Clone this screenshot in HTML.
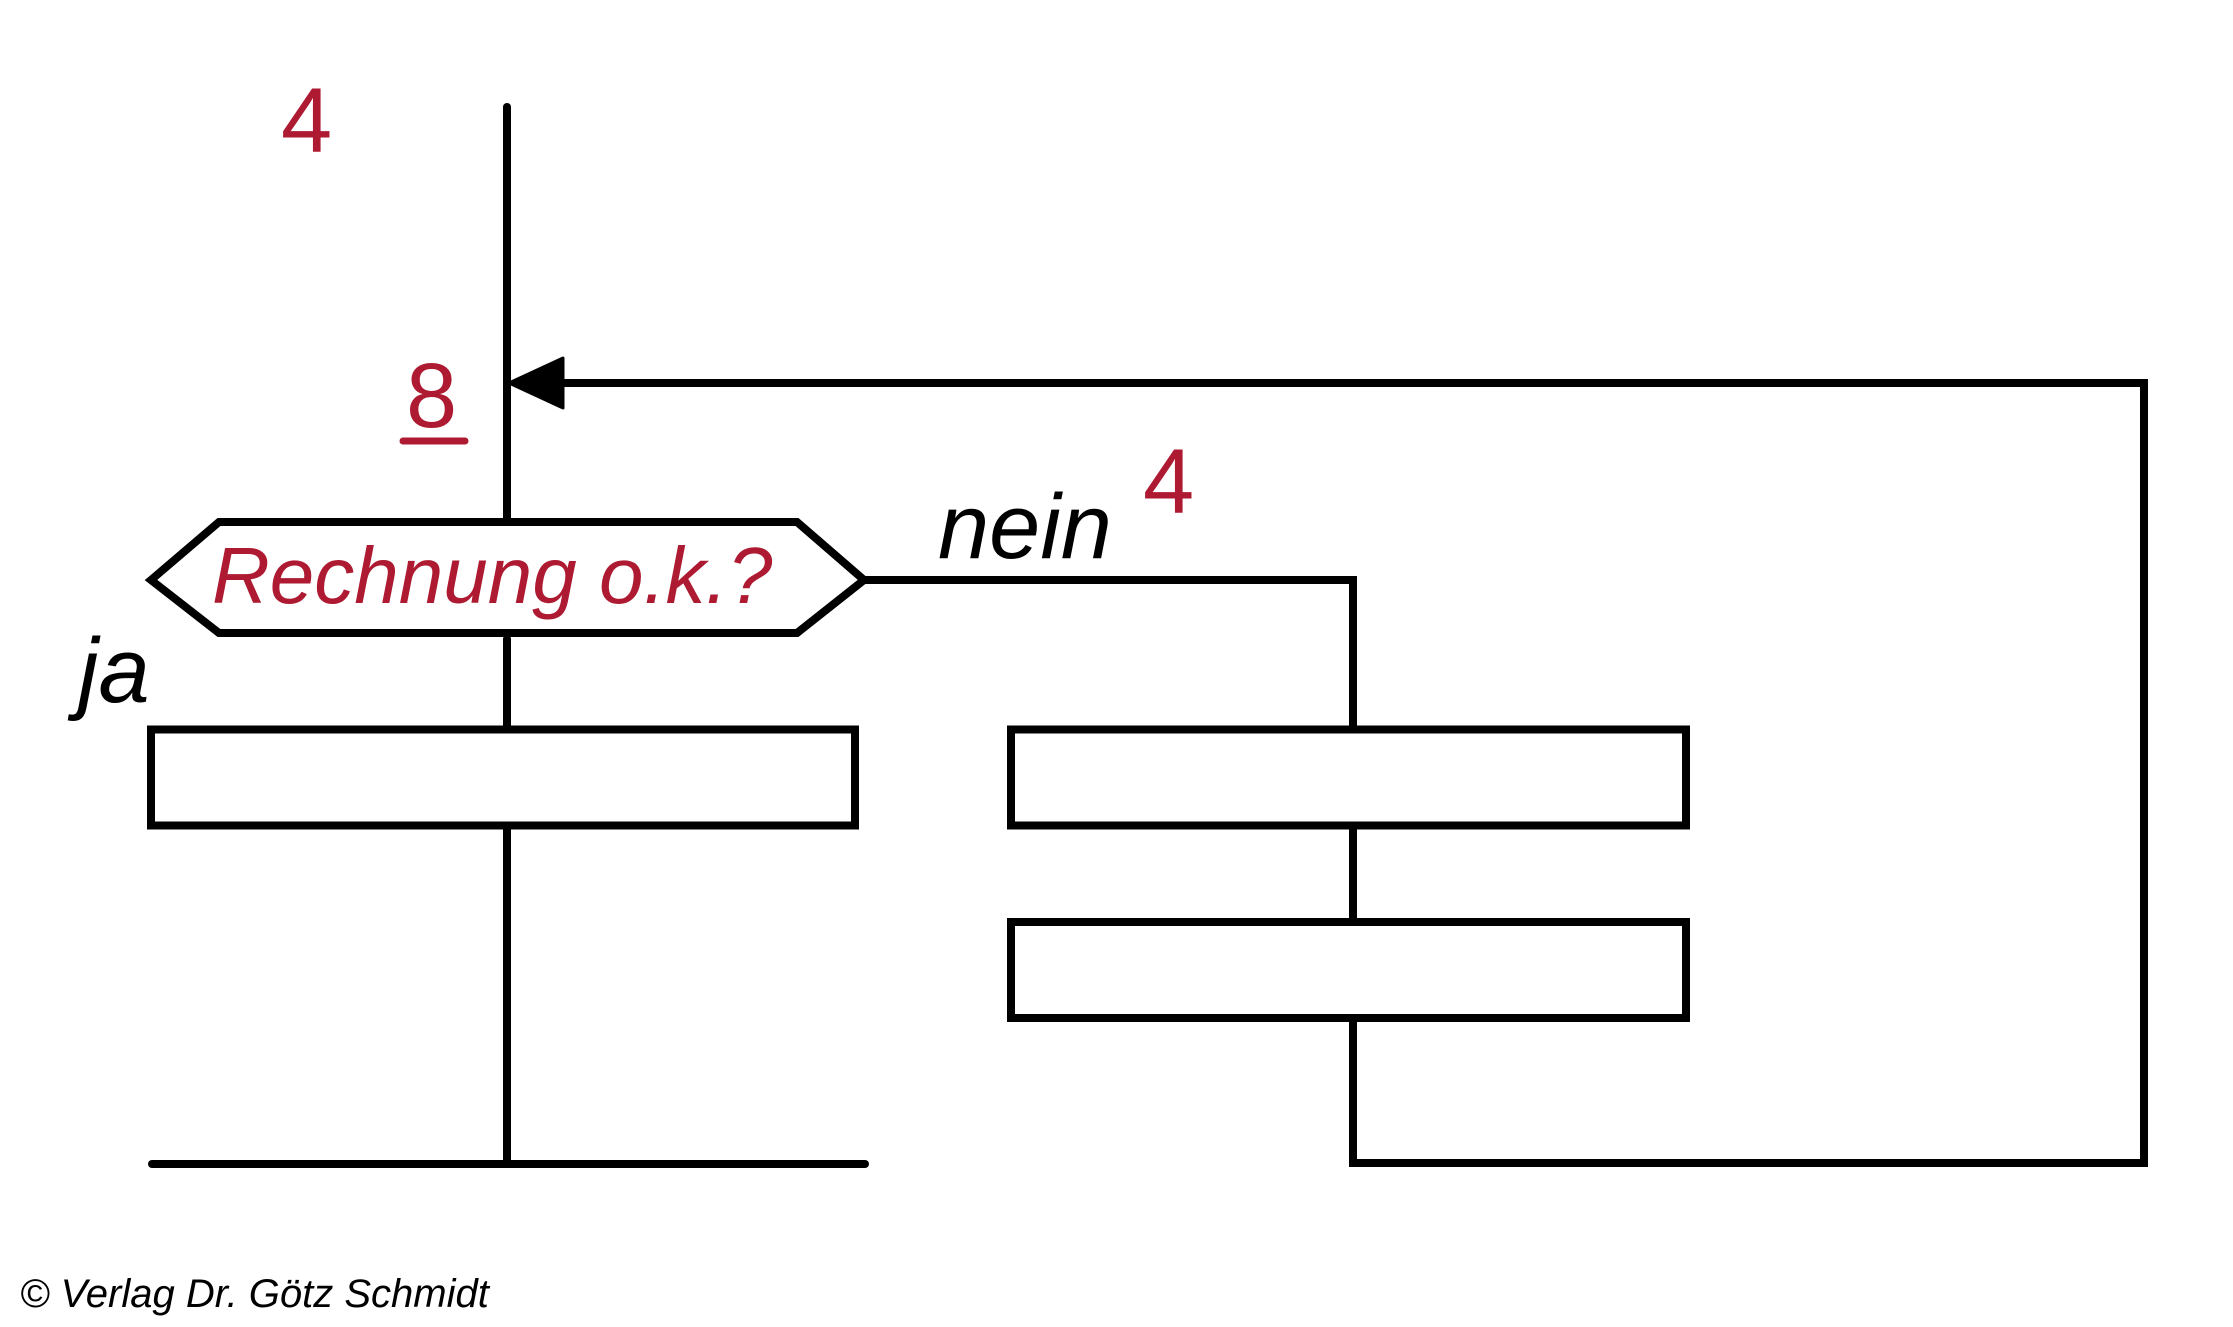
<!DOCTYPE html>
<html>
<head>
<meta charset="utf-8">
<style>
  html, body { margin: 0; padding: 0; background: #ffffff; }
  body { width: 2233px; height: 1327px; overflow: hidden; }
  svg { display: block; }
  .t { font-family: "Liberation Sans", Arial, sans-serif; }
</style>
</head>
<body>
<svg width="2233" height="1327" viewBox="0 0 2233 1327" xmlns="http://www.w3.org/2000/svg">
  <rect x="0" y="0" width="2233" height="1327" fill="#ffffff"/>
  <g stroke="#000" stroke-width="8" fill="none" stroke-linecap="round" stroke-linejoin="miter">
    <!-- main vertical top -->
    <line x1="507" y1="107" x2="507" y2="522"/>
    <!-- loop back line -->
    <polyline points="560,383 2144,383 2144,1163 1353,1163 1353,1022"/>
    <!-- hexagon -->
    <polygon points="151,580 219,522 797,522 864,580 797,633 219,633"/>
    <!-- nein branch -->
    <polyline points="866,580 1353,580 1353,729"/>
    <!-- ja branch connector -->
    <line x1="507" y1="639" x2="507" y2="729"/>
    <!-- box 1 -->
    <rect x="151" y="729.5" width="704" height="96"/>
    <!-- below box 1 -->
    <line x1="507" y1="829" x2="507" y2="1164"/>
    <!-- bottom left line -->
    <line x1="152" y1="1164" x2="865" y2="1164"/>
    <!-- box 2 -->
    <rect x="1011" y="729.5" width="675" height="96"/>
    <!-- connector box2-box3 -->
    <line x1="1353" y1="829" x2="1353" y2="921"/>
    <!-- box 3 -->
    <rect x="1011" y="922" width="675" height="96"/>
  </g>
  <!-- arrowhead -->
  <polygon points="509,383 563,358 563,408" fill="#000" stroke="#000" stroke-width="3" stroke-linejoin="round"/>

  <!-- red labels -->
  <text class="t" x="281" y="152" font-size="92" fill="#ad1a31">4</text>
  <text class="t" x="406" y="427" font-size="92" fill="#ad1a31">8</text>
  <line x1="403" y1="441" x2="465" y2="441" stroke="#ad1a31" stroke-width="7" stroke-linecap="round"/>
  <text class="t" x="1143" y="513" font-size="92" fill="#ad1a31">4</text>
  <text class="t" x="212" y="603" font-size="80" font-style="italic" fill="#ad1a31">Rechnung o.k.?</text>

  <!-- black labels -->
  <text class="t" x="938" y="558" font-size="92" font-style="italic" fill="#000">nein</text>
  <text class="t" x="78" y="702" font-size="92" font-style="italic" fill="#000">ja</text>

  <!-- copyright -->
  <text class="t" x="20" y="1307" font-size="40" font-style="italic" fill="#000">© Verlag Dr. Götz Schmidt</text>
</svg>
</body>
</html>
